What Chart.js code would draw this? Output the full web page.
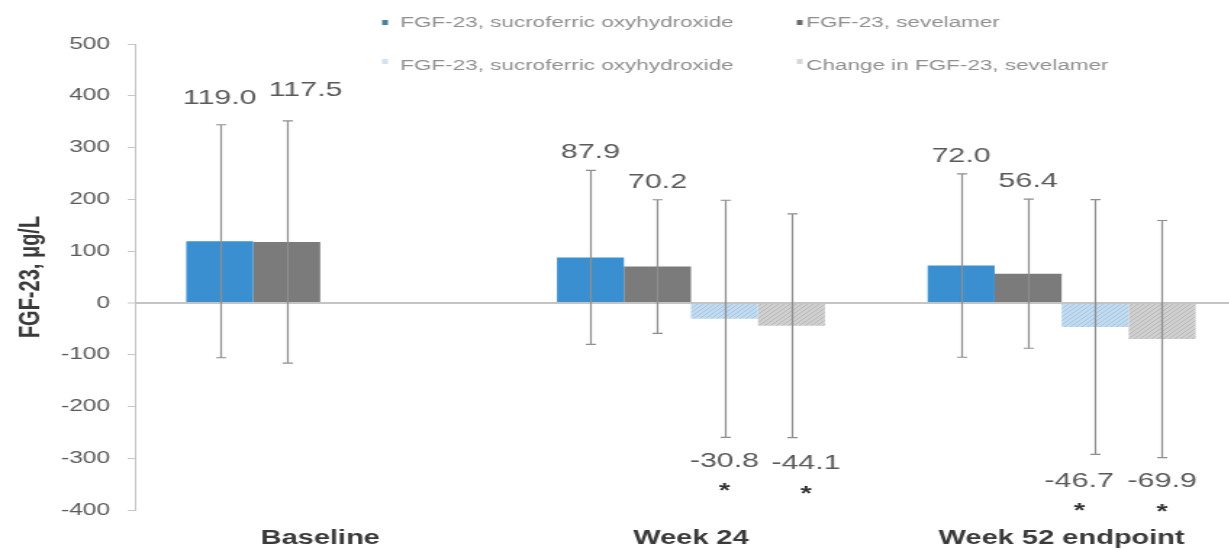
<!DOCTYPE html>
<html>
<head>
<meta charset="utf-8">
<title>FGF-23 by treatment</title>
<script src="https://cdn.jsdelivr.net/npm/chart.js@4/dist/chart.umd.min.js"></script>
<style>
  html, body { margin: 0; padding: 0; background: #ffffff; overflow: hidden; }
  /* the figure is drawn narrow and widened horizontally, like the printed figure */
  #wrap {
    position: absolute; left: 0; top: 0;
    width: 862px; height: 550px;
    transform: scaleX(1.45); transform-origin: 0 0;
  }
</style>
</head>
<body>
<div id="wrap"><canvas id="chart"></canvas></div>
<script>
// ---- data ----
const categories = ['Baseline', 'Week 24', 'Week 52 endpoint'];
const seriesNames = [
  'FGF-23, sucroferric oxyhydroxide',
  'FGF-23, sevelamer',
  'FGF-23, sucroferric oxyhydroxide',
  'Change in FGF-23, sevelamer'
];
const sucroValues = [119.0, 87.9, 72.0];
const sucroSD = [225, 168, 177];
const sevelamerValues = [117.5, 70.2, 56.4];
const sevelamerSD = [234, 129, 144];
const sucroChange = [null, -30.8, -46.7];
const sucroChangeSD = [null, 229, 246];
const sevelamerChange = [null, -44.1, -69.9];
const sevelamerChangeSD = [null, 216, 229];
const changeFlags = [null, '*', '*'];
const yMin = -400, yMax = 500, yStep = 100;

const FONT = '"Liberation Sans", Arial, Helvetica, sans-serif';

// dotted fills for the change-from-baseline bars
function dotted(base, dot) {
  const c = document.createElement('canvas');
  c.width = 4; c.height = 4;
  const g = c.getContext('2d');
  g.fillStyle = base; g.fillRect(0, 0, 4, 4);
  g.fillStyle = dot;
  g.fillRect(0, 0, 1, 1); g.fillRect(2, 2, 1, 1);
  g.fillRect(1, 3, 1, 1); g.fillRect(3, 1, 1, 1);
  return g.createPattern(c, 'repeat');
}
const ctx0 = document.getElementById('chart').getContext('2d');
const lightBlueFill = dotted('#c3dbef', '#a3c6e4');
const lightGreyFill = dotted('#d0d0d0', '#b8b8b8');

// mean +/- SD whiskers
const errorBars = {
  id: 'errorBars',
  afterDatasetsDraw(chart, args, opts) {
    const ctx = chart.ctx, y = chart.scales.y;
    ctx.save();
    ctx.strokeStyle = opts.color;
    ctx.lineWidth = opts.width;
    chart.data.datasets.forEach((ds, i) => {
      const meta = chart.getDatasetMeta(i);
      meta.data.forEach((el, j) => {
        const v = ds.data[j], sd = ds.sd[j];
        if (v == null || sd == null) return;
        const yHi = y.getPixelForValue(v + sd), yLo = y.getPixelForValue(v - sd);
        const x = Math.round(el.x) + 0.5;
        ctx.beginPath();
        ctx.moveTo(x, yHi); ctx.lineTo(x, yLo);
        ctx.moveTo(x - opts.cap, yHi); ctx.lineTo(x + opts.cap, yHi);
        ctx.moveTo(x - opts.cap, yLo); ctx.lineTo(x + opts.cap, yLo);
        ctx.stroke();
      });
    });
    ctx.restore();
  }
};

// value labels beyond the whisker ends, with significance marks under negative ones
const valueLabels = {
  id: 'valueLabels',
  afterDatasetsDraw(chart, args, opts) {
    const ctx = chart.ctx, y = chart.scales.y;
    ctx.save();
    ctx.textAlign = 'center';
    ctx.textBaseline = 'middle';
    chart.data.datasets.forEach((ds, i) => {
      const meta = chart.getDatasetMeta(i);
      meta.data.forEach((el, j) => {
        const v = ds.data[j];
        if (v == null) return;
        const sd = ds.sd[j] || 0;
        const nudge = opts.nudge[i + ':' + j] || [0, 0];
        let ly;
        if (v >= 0) ly = y.getPixelForValue(v + sd) - opts.above;
        else ly = y.getPixelForValue(v - sd) + opts.below;
        const lx = el.x + nudge[0];
        ly += nudge[1];
        ctx.font = opts.font;
        ctx.fillStyle = opts.color;
        ctx.fillText(v.toFixed(1), lx, ly);
        const flag = ds.flags && ds.flags[j];
        if (flag) {
          ctx.font = opts.flagFont;
          ctx.fillStyle = opts.flagColor;
          ctx.textBaseline = 'alphabetic';
          ctx.fillText(flag, lx, ly + opts.flagGap);
          ctx.textBaseline = 'middle';
        }
      });
    });
    ctx.restore();
  }
};

// two-by-two legend above the plot
const gridLegend = {
  id: 'gridLegend',
  afterDraw(chart, args, opts) {
    const ctx = chart.ctx;
    ctx.save();
    ctx.font = opts.font;
    ctx.textBaseline = 'middle';
    ctx.textAlign = 'left';
    chart.data.datasets.forEach((ds, i) => {
      const s = opts.slots[i];
      ctx.fillStyle = ds.swatch;
      ctx.fillRect(s.markerX, s.y - 3 + (s.markerDy || 0), 4, 5);
      ctx.fillStyle = opts.color;
      ctx.fillText(ds.label, s.textX, s.y);
    });
    ctx.restore();
  }
};

new Chart(ctx0, {
  type: 'bar',
  data: {
    labels: categories,
    datasets: [
      { label: seriesNames[0], data: sucroValues, sd: sucroSD,
        backgroundColor: '#3a8fd0', swatch: '#4a7f9f' },
      { label: seriesNames[1], data: sevelamerValues, sd: sevelamerSD,
        backgroundColor: '#7b7b7b', swatch: '#6a6a6a' },
      { label: seriesNames[2], data: sucroChange, sd: sucroChangeSD, flags: changeFlags,
        backgroundColor: lightBlueFill, swatch: '#d3e2ee' },
      { label: seriesNames[3], data: sevelamerChange, sd: sevelamerChangeSD, flags: changeFlags,
        backgroundColor: lightGreyFill, swatch: '#d6d6d6' }
    ]
  },
  options: {
    responsive: true,
    maintainAspectRatio: false,
    animation: false,
    events: [],
    datasets: { bar: { categoryPercentage: 0.723, barPercentage: 1.0, borderWidth: 0 } },
    layout: { padding: { top: 44, right: 2, bottom: 0, left: 0 } },
    scales: {
      x: {
        grid: { display: false, drawTicks: false },
        border: { display: false },
        ticks: { color: '#3a3a3a', padding: 16, font: { family: FONT, size: 20, weight: 'bold' } },
        afterFit(scale) { scale.height = 40; }
      },
      y: {
        min: yMin, max: yMax,
        ticks: { stepSize: yStep, color: '#5a5a5a', padding: 12, font: { family: FONT, size: 17 } },
        grid: {
          color: c => (c.tick && c.tick.value === 0 ? '#c4c4c4' : 'rgba(0,0,0,0)'),
          lineWidth: c => (c.tick && c.tick.value === 0 ? 2 : 1),
          tickColor: '#c8c8c8', tickLength: 5, tickWidth: 1
        },
        border: { display: true, color: '#c4c4c4', width: 1 },
        title: {
          display: true, text: 'FGF-23, μg/L', color: '#3a3a3a',
          font: { family: FONT, size: 20, weight: 'bold' },
          padding: { top: 9, bottom: 0 }
        },
        afterFit(scale) { scale.width = 93; }
      }
    },
    plugins: {
      legend: { display: false },
      tooltip: { enabled: false },
      errorBars: { color: '#8e8e8e', width: 1.2, cap: 3.5 },
      valueLabels: {
        font: '21px ' + FONT, color: '#5a5a5a',
        flagFont: 'bold 20px ' + FONT, flagColor: '#333333',
        above: 18, below: 24, flagGap: 36,
        nudge: { '0:0': [0, -9], '1:0': [13, -13], '3:1': [10, 2], '2:2': [-11, 3] }
      },
      gridLegend: {
        font: '15.5px ' + FONT, color: '#8f8f8f',
        slots: [
          { markerX: 263.5, textX: 276, y: 23 },
          { markerX: 549.5, textX: 556, y: 23 },
          { markerX: 263.5, textX: 276, y: 66, markerDy: -4 },
          { markerX: 549.5, textX: 556, y: 66, markerDy: -4 }
        ]
      }
    }
  },
  plugins: [errorBars, valueLabels, gridLegend]
});
</script>
</body>
</html>
